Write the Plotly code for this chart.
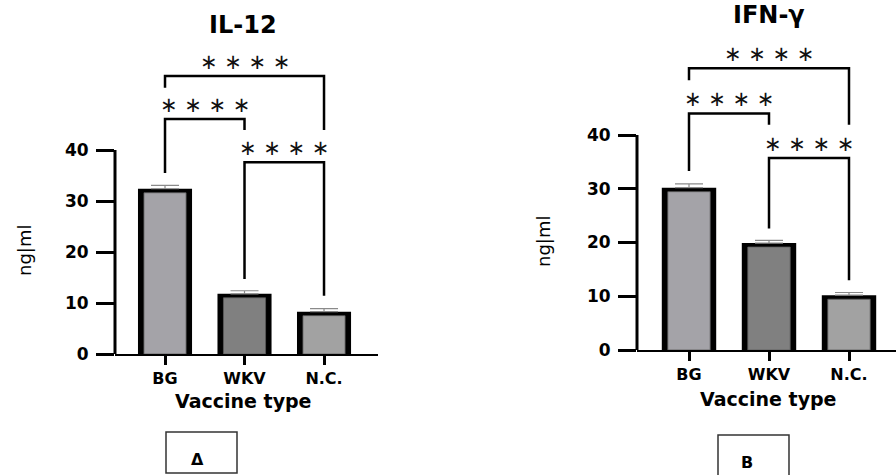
import plotly.graph_objects as go

W, H = 896, 475

# ---- data -------------------------------------------------------------
groups = ["BG", "WKV", "N.C."]
il12_mean = [32.4, 11.8, 8.3]
il12_sem = [0.65, 0.6, 0.6]
ifng_mean = [30.2, 19.9, 10.2]
ifng_sem = [0.7, 0.5, 0.5]
y_ticks = [0, 10, 20, 30, 40]
sig_text = "∗ ∗ ∗ ∗"
# pairwise comparisons (index a, index b)
pairs = [(0, 1), (0, 2), (1, 2)]
# bracket per comparison: (bar level, left leg end, right leg end)
il12_brackets = [(46.1, 35.5, 43.9), (54.5, 52.2, 43.9), (37.6, 14.7, 11.4)]
ifng_brackets = [(44.0, 33.3, 41.9), (52.4, 50.2, 41.9), (35.7, 22.6, 13.0)]

# ---- style ------------------------------------------------------------
fills = ["#a4a3a8", "#808080", "#a2a2a2"]
FONT = "DejaVu Sans"
Y_TOP = 60          # headroom for the significance brackets
BORDER_PX = 4       # thickness of the black bar rim at the top
SY = 475 / 465      # vertical stretch of the layout grid


def px(x, y):
    """layout-grid pixel position -> paper coordinates"""
    return x / W, 1 - (y * SY) / H


panels = [
    dict(title="IL-12", mean=il12_mean, sem=il12_sem, brackets=il12_brackets,
         letter="Δ", xpx=(115, 378), ypx=(354, 48), xrange=(-0.629, 2.679),
         title_pos=(243, 25), ytitle_pos=(24, 251), xtitle_pos=(244, 401),
         box=(166, 432, 237, 473), closed=True, letter_pos=(197, 459),
         star_gap=2.7),
    dict(title="IFN-γ", mean=ifng_mean, sem=ifng_sem, brackets=ifng_brackets,
         letter="B", xpx=(637, 896), ypx=(350, 27.5), xrange=(-0.65, 2.5875),
         title_pos=(769, 15), ytitle_pos=(544, 242), xtitle_pos=(768, 399),
         box=(718, 435, 789, 475), closed=False, letter_pos=(747, 463),
         star_gap=2.7),
]

fig = go.Figure()
annotations = []
shapes = []
layout_axes = {}

for i, p in enumerate(panels, start=1):
    xa = "x" if i == 1 else f"x{i}"
    ya = "y" if i == 1 else f"y{i}"
    xkey = "xaxis" if i == 1 else f"xaxis{i}"
    ykey = "yaxis" if i == 1 else f"yaxis{i}"
    xs = list(range(len(groups)))
    unit_px = (p["ypx"][0] - p["ypx"][1]) / Y_TOP
    inset = BORDER_PX / unit_px

    # black rim bar with upper error bar
    fig.add_trace(go.Bar(
        x=xs, y=p["mean"], width=0.68, marker=dict(color="black", line_width=0),
        error_y=dict(type="data", array=p["sem"], arrayminus=[0] * len(xs),
                     symmetric=False, width=14, thickness=1.2, color="#8a8a8a"),
        xaxis=xa, yaxis=ya, showlegend=False, hoverinfo="skip"))
    # grey fill inside the rim
    fig.add_trace(go.Bar(
        x=xs, y=[m - inset for m in p["mean"]], width=0.53,
        marker=dict(color=fills, line=dict(color="#5c5c5c", width=0.8)),
        xaxis=xa, yaxis=ya, showlegend=False,
        customdata=p["mean"], hovertemplate="%{customdata}<extra></extra>"))

    # significance brackets
    bx, by = [], []
    for (a, b), (top, la, lb) in zip(pairs, p["brackets"]):
        bx += [a, a, b, b, None]
        by += [la, top, top, lb, None]
        annotations.append(dict(
            x=(a + b) / 2, y=top + p["star_gap"], xref=xa, yref=ya,
            text=sig_text, showarrow=False, yanchor="middle",
            font=dict(family=FONT, size=21, color="#111111")))
    fig.add_trace(go.Scatter(
        x=bx, y=by, mode="lines", line=dict(color="black", width=2.5),
        xaxis=xa, yaxis=ya, showlegend=False, hoverinfo="skip"))

    x0, x1 = p["xpx"]
    _, yd0 = px(0, p["ypx"][0])
    _, yd1 = px(0, p["ypx"][1])
    layout_axes[xkey] = dict(
        domain=[x0 / W, x1 / W], range=list(p["xrange"]), anchor=ya,
        tickvals=xs, ticktext=groups, ticks="outside", ticklen=9, tickwidth=3,
        tickcolor="black", showline=True, linewidth=2, linecolor="black",
        showgrid=False, zeroline=False, fixedrange=True, ticklabelstandoff=0,
        tickfont=dict(family=FONT, size=16, color="black", weight="bold"))
    layout_axes[ykey] = dict(
        domain=[yd0, yd1], range=[0, Y_TOP],
        anchor=xa, tickvals=y_ticks, ticks="outside", ticklen=18, tickwidth=2.5,
        tickcolor="black", showline=False, showgrid=False, zeroline=False,
        ticklabelstandoff=4, fixedrange=True,
        tickfont=dict(family=FONT, size=17, color="black", weight="bold"))

    # y axis spine stops at the last tick
    shapes.append(dict(type="line", xref=f"{xa} domain", yref=ya, x0=0, x1=0,
                       y0=y_ticks[0], y1=y_ticks[-1],
                       line=dict(color="black", width=3)))

    tx, ty = px(*p["title_pos"])
    annotations.append(dict(x=tx, y=ty, xref="paper", yref="paper", text=p["title"],
                            showarrow=False, xanchor="center", yanchor="middle",
                            font=dict(family=FONT, size=24, color="black", weight="bold")))
    tx, ty = px(*p["ytitle_pos"])
    annotations.append(dict(x=tx, y=ty, xref="paper", yref="paper", text="ng|ml",
                            textangle=-90, showarrow=False, xanchor="center",
                            yanchor="middle",
                            font=dict(family=FONT, size=18, color="black")))
    tx, ty = px(*p["xtitle_pos"])
    annotations.append(dict(x=tx, y=ty, xref="paper", yref="paper",
                            text="Vaccine type", showarrow=False,
                            xanchor="center", yanchor="middle", borderpad=0,
                            font=dict(family=FONT, size=19, color="black", weight="bold")))

    # panel letter frame (the right one runs off the bottom edge)
    bx0, by0, bx1, by1 = p["box"]
    corners = [(bx0, by1), (bx0, by0), (bx1, by0), (bx1, by1)]
    pts = [px(cx, cy) for cx, cy in corners]
    svg = "M" + " L".join(f"{cx:.5f},{cy:.5f}" for cx, cy in pts)
    if p["closed"]:
        svg += " Z"
    shapes.append(dict(type="path", xref="paper", yref="paper", path=svg,
                       line=dict(color="#333333", width=1.5)))
    tx, ty = px(*p["letter_pos"])
    annotations.append(dict(x=tx, y=ty, xref="paper", yref="paper", text=p["letter"],
                            showarrow=False, xanchor="center", yanchor="middle",
                            borderpad=0,
                            font=dict(family=FONT, size=16, color="black", weight="bold")))

fig.update_layout(
    width=W, height=H, margin=dict(l=0, r=0, t=0, b=0),
    paper_bgcolor="white", plot_bgcolor="white", barmode="overlay",
    annotations=annotations, shapes=shapes, **layout_axes)

fig.write_html("out.html", config=dict(displayModeBar=False))
